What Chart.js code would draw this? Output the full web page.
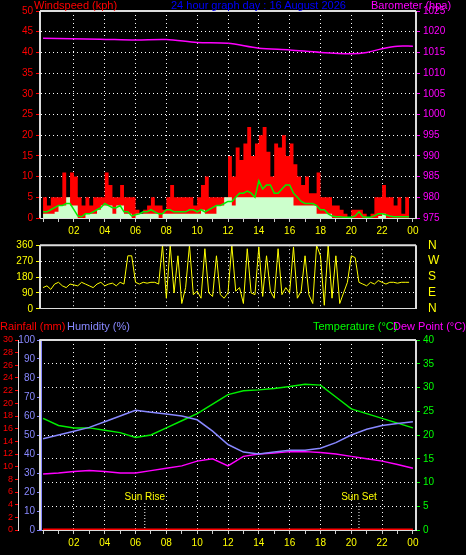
<!DOCTYPE html>
<html><head><meta charset="utf-8">
<script src="https://cdn.jsdelivr.net/npm/chart.js@4/dist/chart.umd.min.js"></script>
<style>
body{margin:0;background:#000;width:466px;height:555px;overflow:hidden;position:relative;font-family:"Liberation Sans",sans-serif}
canvas{position:absolute;left:0}
.t{position:absolute;font-size:11px;line-height:12px;white-space:nowrap}
</style></head><body>
<canvas id="c1" style="top:0"></canvas>
<canvas id="c2" style="top:226px"></canvas>
<canvas id="c3" style="top:330px"></canvas>
<div class="t" style="left:34px;top:-1px;color:#f00">Windspeed (kph)</div>
<div class="t" style="left:171px;top:-1px;color:#00f">24 hour graph day : 16 August 2026</div>
<div class="t" style="left:371px;top:-1px;color:#f0f">Barometer (hpa)</div>
<div class="t" style="left:0px;top:320px;color:#f00">Rainfall (mm)</div>
<div class="t" style="left:67px;top:320px;color:#88f">Humidity (%)</div>
<div class="t" style="left:313px;top:320px;color:#0f0">Temperature (°C)</div>
<div class="t" style="left:393px;top:320px;color:#f0f">Dew Point (°C)</div>
<script>
const hourLabels=['00','02','04','06','08','10','12','14','16','18','20','22','00'];
const windGust=[5,3,5,5, 5,11,5,11, 10,5,3,5, 3,5,5,5, 11,8,5,5, 8,5,5,5, 2,1,2,3, 5,3,3,2, 5,8,5,5, 5,5,5,3, 5,8,10,5, 5,5,5,5, 15,10,17,14, 18,22,15,18, 20,22,16,10, 18,17,20,15, 18,13,10,8, 10,6,6,11, 5,5,5,3, 3,2,1,0, 2,2,2,1, 0,1,5,5, 8,5,5,3, 5,1,5,3];
const windSpeed=[1,1,1,1.5, 3,3,5,3, 3,0,0,1, 1,1,2,3, 3,3,1,3, 3,1,1,0, 1,1,1,1, 1,1,0,1, 1,1,1,1, 1,1,1,1, 1,2,1,1, 1,3,3,5, 5,3,5,5, 5,5,5,5, 5,5,5,5, 5,5,5,5, 5,3,3,3, 3,3,3,1, 1,1,1,0, 0,0,0,0, 0,0,0,0, 0,0,0,0.5, 1,0,0,0, 0,0,0,0];
const windAvg=[1.5,1.5,2,2.5, 3,3,3.5,3.5, 2,0.5,0.3,1, 1,1.5,2,2.5, 3.5,3,2.5,2.5, 3,1.5,1.5,0.5, 0.8,1,1.5,1.5, 2,1.5,1,1, 2,2,1.5,1.5, 1.5,1.5,2,2, 1.5,2,1.5,2, 2.5,3,3,3.5, 4,4,5,6, 6,6.5,6,5, 9,7,8,8, 6,6,7,8, 8,6,5,4, 3.5,3.5,3.5,3, 2,2,1,0.5, 0.3,0.3,0.2,0.2, 0.2,0.5,1.5,0.3, 0.2,0.2,0.5,1, 1,0.8,0.5,0.3, 0.3,0.3,0.3,0.3];
const baroHours=[0,3.7,6,8,10,12,14,16,18,20,21,22,23,24];
const barometer=[1018.4,1018.2,1018.0,1018.1,1017.4,1017.2,1016.0,1015.6,1015.0,1014.7,1015.0,1015.9,1016.5,1016.5];
const windDir=[120,130,110,140,150,130,120,140,135,130,150,140,130,120,140,150,130,140,145,130,150,140, 300,300, 150,140,150,145,150,150,140, 360,
 60,360,90,300,30,120,360,80,100,60,340,90,70,300,80,60,90,360,100,120,30,340,90,80,350,70,300,100,60,340,80,120,90,350,60,100,300,80,30,360,
 300,20,360,60,300,30,90, 150,300,290, 150,140,130,150,140,160,150,140,150,150,145,150,150,150];
const humidity=[48,50,52,54,57,60,63,62,61,60,58,52,45,41,40,41,42,42,43,46,50,53,55,56,57];
const temperature=[23.5,22,21.5,21.5,21,20.5,19.5,20,21.5,23,24.5,26.5,28.5,29.3,29.5,29.8,30.2,30.7,30.5,28,25.5,24.5,23.5,22.5,21.5];
const dewPoint=[11.8,12,12.3,12.5,12.3,12,12,12.5,13,13.5,14.5,15,13.5,15.5,16,16.2,16.5,16.5,16.3,16,15.5,15,14.5,13.8,13];
const rainfall=[0,0,0,0,0,0,0,0,0,0,0,0,0,0,0,0,0,0,0,0,0,0,0,0,0];
const compass=['N','E','S','W','N'];
const sunRise=6.6, sunSet=20.5;

const F={family:'Liberation Sans',size:10};
const q=a=>a.map((v,i)=>({x:i*0.25,y:v}));
const h=a=>a.map((v,i)=>({x:i,y:v}));
function xAxis(show){return {type:'linear',min:-0.2,max:24.2,afterBuildTicks:s=>{s.ticks=[];for(let i=0;i<=24;i++)s.ticks.push({value:i});},
 ticks:{display:show,color:'#ff0',font:F,maxRotation:0,autoSkip:false,callback:v=>v%2===0&&v>0?hourLabels[v/2]:''},
 grid:{color:c=>c.tick&&c.tick.value%2===0&&c.tick.value>0&&c.tick.value<24?'#fff':'transparent',tickColor:'#ccc',tickLength:show?4:0,lineWidth:1},
 border:{display:true,color:'#ddd',dash:[1,3]}};}
Chart.defaults.animation=false;Chart.defaults.font=F;
function setup(id,w,hgt){const c=document.getElementById(id);c.width=w;c.height=hgt;c.style.width=w+'px';c.style.height=hgt+'px';return c;}
const frame={id:'frame',afterDraw(ch){const a=ch.chartArea,x=ch.ctx;x.save();x.strokeStyle='#ddd';x.lineWidth=2;x.beginPath();x.moveTo(a.left,a.top);x.lineTo(a.right,a.top);x.moveTo(a.left,a.top);x.lineTo(a.left,a.bottom);x.moveTo(a.right,a.top);x.lineTo(a.right,a.bottom);x.stroke();x.restore();}};

new Chart(setup('c1',466,240),{type:'line',plugins:[frame],
 data:{datasets:[
  {data:h(barometer).map((p,i)=>({x:baroHours[i],y:p.y})),yAxisID:'yb',borderColor:'#f0f',borderWidth:1.5,pointRadius:0,tension:0.3},
  {data:q(windAvg),yAxisID:'y',borderColor:'#0e0',borderWidth:1.5,pointRadius:0},
  {data:q(windSpeed),yAxisID:'y',borderColor:'#cfc',backgroundColor:'#cfc',borderWidth:0,pointRadius:0,stepped:true,fill:'origin'},
  {data:q(windGust),yAxisID:'y',borderColor:'#f00',backgroundColor:'#f00',borderWidth:0,pointRadius:0,stepped:true,fill:'origin'}]},
 options:{responsive:false,layout:{padding:{top:11,left:0,right:0}},plugins:{legend:{display:false},tooltip:{enabled:false}},
  scales:{x:xAxis(true),
   y:{position:'left',min:0,max:50,afterFit:s=>{s.width=40},ticks:{stepSize:5,autoSkip:false,color:'#f00',font:F,padding:3},grid:{color:'#fff',tickColor:'#f00',tickLength:4},border:{dash:[1,3],color:'#ddd'}},
   yb:{position:'right',min:975,max:1025,afterFit:s=>{s.width=50},ticks:{stepSize:5,autoSkip:false,color:'#f0f',font:F,padding:3,callback:v=>String(v)},grid:{drawOnChartArea:false,tickColor:'#f0f',tickLength:4},border:{color:'#ddd'}}}}});

new Chart(setup('c2',466,102),{type:'line',plugins:[frame],
 data:{datasets:[{data:q(windDir),borderColor:'#ff0',borderWidth:1,pointRadius:0}]},
 options:{responsive:false,layout:{padding:{top:6,bottom:4}},plugins:{legend:{display:false},tooltip:{enabled:false}},
  scales:{x:xAxis(false),
   y:{position:'left',min:0,max:360,afterFit:s=>{s.width=40},ticks:{stepSize:90,autoSkip:false,color:'#ff0',font:F,padding:3},grid:{color:'#fff',tickColor:'#ff0',tickLength:4},border:{dash:[1,3],color:'#ddd'}},
   y2:{position:'right',min:0,max:360,afterFit:s=>{s.width=50},ticks:{stepSize:90,autoSkip:false,color:'#ff0',font:{family:'Liberation Sans',size:12},padding:12,callback:v=>compass[v/90]},grid:{drawOnChartArea:false,drawTicks:false},border:{display:false}}}}});

const sun={id:'sun',afterDatasetsDraw(ch){const x=ch.ctx,s=ch.scales.x,a=ch.chartArea;x.save();x.font='10px Liberation Sans';x.fillStyle='#ff0';x.textAlign='center';
 [[sunRise,'Sun Rise'],[sunSet,'Sun Set']].forEach(([t,l])=>{const px=s.getPixelForValue(t);x.fillText(l,px,a.bottom-30);x.strokeStyle='#fff';x.setLineDash([1,2]);x.beginPath();x.moveTo(px,a.bottom-27);x.lineTo(px,a.bottom);x.stroke();});x.restore();}};
new Chart(setup('c3',466,222),{type:'line',plugins:[frame,sun],
 data:{datasets:[
  {data:h(rainfall),yAxisID:'yr',borderColor:'#f00',borderWidth:3,pointRadius:0},
  {data:h(humidity),yAxisID:'yh',borderColor:'#88f',borderWidth:1.5,pointRadius:0},
  {data:h(dewPoint),yAxisID:'yt',borderColor:'#f0f',borderWidth:1.5,pointRadius:0},
  {data:h(temperature),yAxisID:'yt',borderColor:'#0e0',borderWidth:1.5,pointRadius:0}]},
 options:{responsive:false,layout:{padding:{top:10}},plugins:{legend:{display:false},tooltip:{enabled:false}},
  scales:{x:xAxis(true),
   yh:{position:'left',min:0,max:100,afterFit:s=>{s.width=22},ticks:{stepSize:10,autoSkip:false,color:'#88f',font:F,padding:2},grid:{drawOnChartArea:false,tickColor:'#88f',tickLength:3},border:{color:'#88f',width:3}},
   yr:{position:'left',min:0,max:30,afterFit:s=>{s.width=18},ticks:{stepSize:2,autoSkip:false,color:'#f00',font:{family:'Liberation Sans',size:9},padding:2},grid:{drawOnChartArea:false,tickColor:'#f00',tickLength:3},border:{color:'#ddd'}},
   yt:{position:'right',min:0,max:40,afterFit:s=>{s.width=50},ticks:{stepSize:5,autoSkip:false,color:'#0f0',font:F,padding:3},grid:{color:'#fff',tickColor:'#0f0',tickLength:4},border:{color:'#ddd',dash:[1,3]}}}}});
</script></body></html>
